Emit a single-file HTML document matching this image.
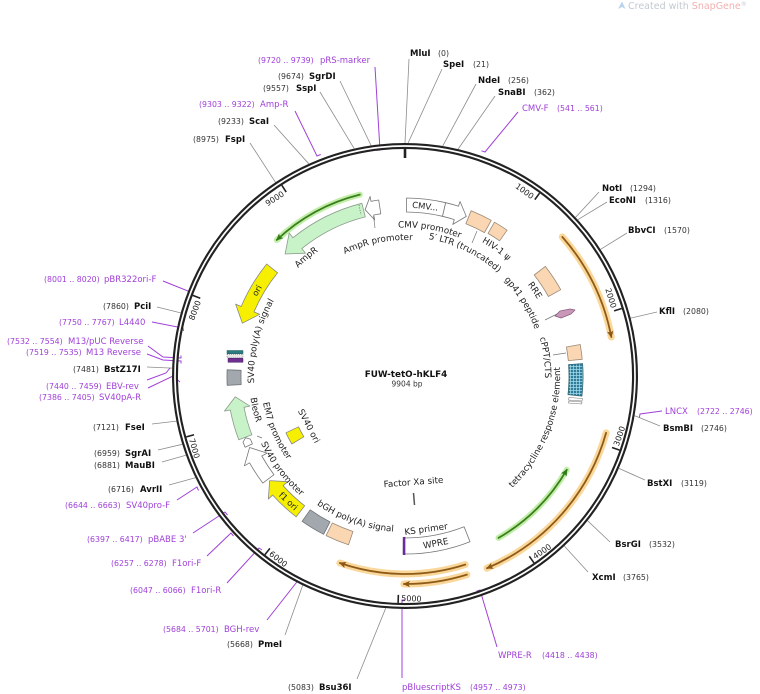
<!DOCTYPE html>
<html><head><meta charset="utf-8">
<style>
html,body{margin:0;padding:0;background:#fff;}
svg{display:block;}
text{font-family:"DejaVu Sans","Liberation Sans",sans-serif;}
.n{font-size:8.5px;font-weight:bold;fill:#111;}
.p{font-size:7.8px;fill:#333;}
.pr{font-size:8.5px;fill:#a040d8;}
.pp{font-size:7.8px;fill:#a040d8;}
.f{font-size:8.8px;fill:#222;}
.t{font-size:8px;fill:#222;}
</style></head>
<body>
<svg width="760" height="694" viewBox="0 0 760 694" xmlns="http://www.w3.org/2000/svg">
<defs>
  <marker id="ao" markerUnits="userSpaceOnUse" markerWidth="10" markerHeight="8" refX="6" refY="4" orient="auto"><path d="M0,0.8 L7,4 L0,7.2 L1.5,4z" fill="#8a5714"/></marker>
  <marker id="ag" markerUnits="userSpaceOnUse" markerWidth="10" markerHeight="8" refX="6" refY="4" orient="auto"><path d="M0,0.8 L7,4 L0,7.2 L1.5,4z" fill="#2f7a18"/></marker>
  <pattern id="hp" width="3" height="3" patternUnits="userSpaceOnUse"><rect width="3" height="3" fill="#2f7d9a"/><path d="M0,0.5H3M0.5,0V3" stroke="#a6dcea" stroke-width="0.7"/></pattern>
  <path id="cw136" d="M405,512 A136,136 0 1 1 405,240 A136,136 0 1 1 405,512"/>
  <path id="cw152" d="M405,528 A152,152 0 1 1 405,224 A152,152 0 1 1 405,528"/>
  <path id="cw148" d="M405,524.5 A148.5,148.5 0 1 1 405,227.5 A148.5,148.5 0 1 1 405,524.5"/>
  <path id="cw139" d="M405,515 A139,139 0 1 1 405,237 A139,139 0 1 1 405,515"/>
  <path id="cw154" d="M405,530.5 A154.5,154.5 0 1 1 405,221.5 A154.5,154.5 0 1 1 405,530.5"/>
  <path id="cw153" d="M405,529 A153,153 0 1 1 405,223 A153,153 0 1 1 405,529"/>
  <path id="cw138" d="M405,514 A138,138 0 1 1 405,238 A138,138 0 1 1 405,514"/>
  <path id="cw140" d="M405,516 A140,140 0 1 1 405,236 A140,140 0 1 1 405,516"/>
  <path id="cw151" d="M405,527 A151,151 0 1 1 405,225 A151,151 0 1 1 405,527"/>
  <path id="ccw155" d="M405,221 A155,155 0 1 0 405,531 A155,155 0 1 0 405,221"/>
  <path id="ccw156" d="M405,220 A156,156 0 1 0 405,532 A156,156 0 1 0 405,220"/>
  <path id="ccw159" d="M405,217 A159,159 0 1 0 405,535 A159,159 0 1 0 405,217"/>
  <path id="ccw144" d="M405,231.5 A144.5,144.5 0 1 0 405,520.5 A144.5,144.5 0 1 0 405,231.5"/>
</defs>

<!-- watermark -->
<path d="M618,9 L622,1.5 L625.5,9 L622,7 Z" fill="#b9d3ee"/>
<text x="628" y="9" font-size="9.5" fill="#c3c9d2">Created with <tspan fill="#f2b0b0">SnapGene</tspan><tspan font-size="6" dy="-3">®</tspan></text>

<!-- enzyme leader lines -->
<g stroke="#8c8c8c" stroke-width="0.8" fill="none">
  <line x1="409" y1="59" x2="405" y2="143"/>
  <line x1="442" y1="69" x2="408.1" y2="143"/>
  <line x1="476" y1="84" x2="442.7" y2="146.1"/>
  <line x1="495" y1="96" x2="458.1" y2="149.1"/>
  <line x1="599" y1="192" x2="575.6" y2="217.3"/>
  <line x1="607" y1="202" x2="577.8" y2="219.7"/>
  <line x1="627" y1="233" x2="600.6" y2="249.3"/>
  <line x1="657" y1="312" x2="630.7" y2="318.1"/>
  <line x1="660" y1="426" x2="634.6" y2="415.7"/>
  <line x1="645" y1="480" x2="618.9" y2="468.4"/>
  <line x1="610" y1="542" x2="587.6" y2="520.7"/>
  <line x1="588" y1="572" x2="564.3" y2="546"/>
  <line x1="357" y1="679" x2="385.7" y2="608.2"/>
  <line x1="285" y1="635" x2="302.7" y2="585.4"/>
  <line x1="169" y1="485" x2="195.4" y2="477.7"/>
  <line x1="162" y1="462" x2="185.9" y2="455.2"/>
  <line x1="158" y1="450" x2="182.2" y2="444.3"/>
  <line x1="152" y1="424" x2="176.4" y2="421.1"/>
  <line x1="147" y1="367" x2="172.1" y2="368.1"/>
  <line x1="157" y1="307" x2="180.7" y2="312.9"/>
  <line x1="250" y1="143" x2="275.5" y2="182.3"/>
  <line x1="274" y1="125" x2="308.8" y2="163.8"/>
  <line x1="320" y1="92" x2="354.2" y2="148.6"/>
  <line x1="340" y1="81" x2="371.1" y2="145.5"/>
</g>

<!-- primer leader lines -->
<g stroke="#a040d8" stroke-width="1" fill="none">
  <polyline points="375,67 380,150 376.5,150.4"/>
  <polyline points="295,111 317,156 320.7,154.5"/>
  <polyline points="518,112 485,152 481.5,150.8"/>
  <polyline points="662,411 640,414 639.4,417.5"/>
  <polyline points="497,647 480,590 476.5,591.2"/>
  <polyline points="402,678 402,600 405,600"/>
  <polyline points="267,620 300,578 303.5,579.8"/>
  <polyline points="227,583 259,548 262,550"/>
  <polyline points="207,556 231,533 233.5,536"/>
  <polyline points="193,533 225,512 227.5,515"/>
  <polyline points="177,500 197,487 198.5,490.5"/>
  <polyline points="163,281 193,293 192,296"/>
  <polyline points="152,322 183,328 183.5,331"/>
  <polyline points="148,346 163,357 181,358 181,355.5"/>
  <polyline points="147,354 163,360 181,361 181,363.5"/>
  <polyline points="147,380 166,373 170,368"/>
  <polyline points="148,388 173,376 180,382"/>
</g>

<!-- backbone -->
<circle cx="405" cy="376" r="230" fill="none" stroke="#222" stroke-width="6"/>
<circle cx="405" cy="376" r="230" fill="none" stroke="#fff" stroke-width="1.7"/>

<!-- ticks -->
<line x1="405" y1="147" x2="405" y2="158" stroke="#222" stroke-width="2.6"/>
<g stroke="#222" stroke-width="1.6">
  <line x1="405" y1="149" x2="405" y2="157" transform="rotate(36.35 405 376)"/>
  <line x1="405" y1="149" x2="405" y2="157" transform="rotate(72.70 405 376)"/>
  <line x1="405" y1="149" x2="405" y2="157" transform="rotate(109.05 405 376)"/>
  <line x1="405" y1="149" x2="405" y2="157" transform="rotate(145.40 405 376)"/>
  <line x1="405" y1="149" x2="405" y2="157" transform="rotate(181.74 405 376)"/>
  <line x1="405" y1="149" x2="405" y2="157" transform="rotate(218.09 405 376)"/>
  <line x1="405" y1="149" x2="405" y2="157" transform="rotate(254.44 405 376)"/>
  <line x1="405" y1="149" x2="405" y2="157" transform="rotate(290.79 405 376)"/>
  <line x1="405" y1="149" x2="405" y2="157" transform="rotate(327.14 405 376)"/>
</g>
<g class="t">
  <text x="402" y="159" text-anchor="end" transform="rotate(36.35 405 376)">1000</text>
  <text x="402" y="159" text-anchor="end" transform="rotate(72.70 405 376)">2000</text>
  <text x="408" y="601" transform="rotate(-70.95 405 376)">3000</text>
  <text x="408" y="601" transform="rotate(-34.60 405 376)">4000</text>
  <text x="408" y="601" transform="rotate(1.74 405 376)">5000</text>
  <text x="408" y="601" transform="rotate(38.09 405 376)">6000</text>
  <text x="408" y="601" transform="rotate(74.44 405 376)">7000</text>
  <text x="402" y="159" text-anchor="end" transform="rotate(290.79 405 376)">8000</text>
  <text x="402" y="159" text-anchor="end" transform="rotate(327.14 405 376)">9000</text>
</g>

<!-- orange / green arcs -->
<g fill="none" stroke-linecap="round">
  <g stroke="#f8c978" stroke-width="7" opacity="0.75">
    <path d="M562.3,236.9 A210,210 0 0 1 611.3,337.0"/>
    <path d="M606.1,432.9 A209,209 0 0 1 487.0,568.2"/>
    <path d="M465.2,564.6 A198,198 0 0 1 339.9,563.0"/>
    <path d="M466.9,574.6 A208,208 0 0 1 403.9,584.0"/>
  </g>
  <g stroke="#8f5b16" stroke-width="1.8" marker-end="url(#ao)">
    <path d="M562.3,236.9 A210,210 0 0 1 611.3,337.0"/>
    <path d="M606.1,432.9 A209,209 0 0 1 487.0,568.2"/>
    <path d="M465.2,564.6 A198,198 0 0 1 339.9,563.0"/>
    <path d="M466.9,574.6 A208,208 0 0 1 403.9,584.0"/>
  </g>
  <g stroke="#b6ea98" stroke-width="6" opacity="0.85">
    <path d="M359.8,194.6 A187,187 0 0 0 276.8,239.9"/>
    <path d="M498.5,537.9 A187,187 0 0 0 566.8,469.8"/>
  </g>
  <g stroke="#3a7f1e" stroke-width="1.8" marker-end="url(#ag)">
    <path d="M359.8,194.6 A187,187 0 0 0 276.8,239.9"/>
    <path d="M498.5,537.9 A187,187 0 0 0 566.8,469.8"/>
  </g>
</g>

<!-- features -->
<g stroke-width="0.8" stroke-linejoin="round">
  <path d="M406.6,198 A178,178 0 0 1 445.7,202.7 L442.5,216.3 A164,164 0 0 0 406.4,212 Z" fill="#fff" stroke="#777"/>
  <path d="M445.7,202.7 A178,178 0 0 1 458.5,206.2 L460.0,201.5 L466.3,216.4 L452.8,224.4 L454.3,219.6 A164,164 0 0 0 442.5,216.3 Z" fill="#fff" stroke="#777"/>
  <path d="M471.1,210.7 A178,178 0 0 1 491.3,220.3 L484.5,232.6 A164,164 0 0 0 465.9,223.7 Z" fill="#fad7b2" stroke="#9b8a78"/>
  <path d="M494.5,222.2 A178,178 0 0 1 507.1,230.2 L499.6,240.8 A165,165 0 0 0 488.0,233.4 Z" fill="#fad7b2" stroke="#9b8a78"/>
  <path d="M545.3,266.4 A178,178 0 0 1 560.7,289.7 L548.4,296.5 A164,164 0 0 0 534.2,275.0 Z" fill="#fad7b2" stroke="#9b8a78"/>
  <polygon points="555,316 560,311 570,309 575,310 571,314 561,318" fill="#c998b8" stroke="#8b5b80"/>
  <path d="M580.2,344.5 A178,178 0 0 1 582.2,359.3 L568.3,360.6 A164,164 0 0 0 566.4,347.0 Z" fill="#fad7b2" stroke="#9b8a78"/>
  <path d="M582.6,363.6 A178,178 0 0 1 581.9,396.1 L568.0,394.6 A164,164 0 0 0 568.6,364.6 Z" fill="url(#hp)" stroke="#2a6070"/>
  <polygon points="569,397.5 582.5,398.5 582,401 568.5,400" fill="#fff" stroke="#777" stroke-width="0.6"/>
  <polygon points="569,401 582,402 581.5,404 568.5,403" fill="#fff" stroke="#777" stroke-width="0.6"/>
  <path d="M470.0,541.7 A178,178 0 0 1 403.1,554.0 L403.3,538.0 A162,162 0 0 0 464.1,526.8 Z" fill="#fff" stroke="#777"/>
  <path d="M326.1,535.6 A178,178 0 0 0 348.5,544.8 L353.0,531.5 A164,164 0 0 1 332.3,523.0 Z" fill="#fad7b2" stroke="#9b8a78"/>
  <path d="M302.1,521.3 A178,178 0 0 0 323.6,534.3 L330.0,521.9 A164,164 0 0 1 310.2,509.8 Z" fill="#a3a8ae" stroke="#6f7378"/>
  <path d="M296.2,516.8 A178,178 0 0 1 272.7,495.1 L268.3,499.1 L269.7,480.6 L287.6,481.7 L283.1,485.7 A164,164 0 0 0 304.7,505.8 Z" fill="#f6f000" stroke="#888"/>
  <path d="M262.8,483.1 A178,178 0 0 1 249.6,462.8 L244.4,465.8 L249.6,447.5 L267.1,453.1 L261.8,456.0 A164,164 0 0 0 274.0,474.7 Z" fill="#fff" stroke="#777"/>
  <polygon points="245.1,447.2 243.0,442.1 245.6,437.8 250.4,439.1 252.4,443.9" fill="#fff" stroke="#777"/>
  <path d="M238.8,439.8 A178,178 0 0 1 230.3,410.0 L224.4,411.1 L235.3,396.8 L249.9,406.1 L244.0,407.3 A164,164 0 0 0 251.9,434.8 Z" fill="#c8f2c8" stroke="#8c9c8c"/>
  <path d="M227.2,385.3 A178,178 0 0 1 227.1,369.8 L241.1,370.3 A164,164 0 0 0 241.2,384.6 Z" fill="#a3a8ae" stroke="#6f7378"/>
  <rect x="227" y="350.5" width="16" height="3.2" fill="#2a7c80" stroke="#1f5a5c" stroke-width="0.5"/>
  <rect x="227" y="354.2" width="16" height="3.4" fill="#e8e8e8" stroke="#555" stroke-width="0.5" stroke-dasharray="1,1"/>
  <rect x="228" y="358.3" width="15" height="4" fill="#6d2f90" stroke="#4a1d66" stroke-width="0.5"/>
  <path d="M266.7,264.0 A178,178 0 0 0 241.2,306.5 L235.6,304.1 L242.4,323.2 L259.6,314.3 L254.0,311.9 A164,164 0 0 1 277.6,272.8 Z" fill="#f6f000" stroke="#888"/>
  <path d="M361.9,203.3 A178,178 0 0 0 293.0,237.7 L289.2,233.0 L285.1,254.0 L305.6,253.2 L301.8,248.6 A164,164 0 0 1 365.3,216.9 Z" fill="#c8f2c8" stroke="#8c9c8c"/>
  <line x1="359" y1="205" x2="361" y2="215" stroke="#666" stroke-width="0.8" stroke-dasharray="1,1.5"/>
  <path d="M378.7,200 A178,178 0 0 0 371.0,201.3 L370.1,196.4 L365.1,209.7 L374.7,219.9 L373.7,215.0 A164,164 0 0 1 380.8,213.8 Z" fill="#fff" stroke="#777"/>
  <path d="M291.8,444.0 A132,132 0 0 1 285.9,432.8 L298.5,426.8 A118,118 0 0 0 303.9,436.8 Z" fill="#f6f000" stroke="#888"/>
</g>
<line x1="404.1" y1="537" x2="404.1" y2="555" stroke="#6a2aa0" stroke-width="2.5"/>
<line x1="413.5" y1="493" x2="414.5" y2="505" stroke="#555" stroke-width="1.5"/>

<!-- feature leader lines -->
<g stroke="#777" stroke-width="0.7">
  <line x1="373.5" y1="216" x2="375" y2="228"/>
  <line x1="477" y1="231" x2="472" y2="243"/>
  <line x1="545" y1="320" x2="557" y2="314"/>
  <line x1="553" y1="355" x2="566" y2="353"/>
  <line x1="257" y1="436" x2="262" y2="438"/>
</g>

<!-- feature labels (curved) -->
<g class="f" text-anchor="middle">
  <text><textPath href="#cw136" startOffset="399.7">AmpR promoter</textPath></text>
  <text><textPath href="#cw152" startOffset="371.9">AmpR</textPath></text>
  <text><textPath href="#cw148" startOffset="491.1">CMV promoter</textPath></text>
  <text><textPath href="#cw139" startOffset="499.3">5′ LTR (truncated)</textPath></text>
  <text><textPath href="#cw154" startOffset="581.6">HIV-1 ψ</textPath></text>
  <text><textPath href="#cw153" startOffset="631.5">RRE</textPath></text>
  <text><textPath href="#cw138" startOffset="573.2">gp41 peptide</textPath></text>
  <text><textPath href="#cw140" startOffset="641.2">cPPT/CTS</textPath></text>
  <text><textPath href="#cw151" startOffset="272.8">SV40 poly(A) signal</textPath></text>
  <text><textPath href="#ccw155" startOffset="672.3">tetracycline response element</textPath></text>
  <text><textPath href="#ccw156" startOffset="437.3">bGH poly(A) signal</textPath></text>
  <text><textPath href="#ccw159" startOffset="352.4">SV40 promoter</textPath></text>
  <text><textPath href="#ccw144" startOffset="285.0">EM7 promoter</textPath></text>
  <text><textPath href="#ccw156" startOffset="279.6">BleoR</textPath></text>
  <text x="309" y="429" transform="rotate(62.3 309 426)">SV40 ori</text>
  <text x="413.5" y="485" transform="rotate(-4.4 413.5 482)">Factor Xa site</text>
  <text x="426" y="532" transform="rotate(-8 426 529)">KS primer</text>
  <text x="435.7" y="546.3" transform="rotate(-10.4 435.7 543.2)">WPRE</text>
  <text x="425.2" y="209.2" transform="rotate(6.8 425.2 206.2)" font-size="8.5">CMV...</text>
  <text x="288.4" y="504.1" transform="rotate(43 288.4 501.1)" font-size="8.5">f1 ori</text>
  <text x="256.9" y="293.5" transform="rotate(-60 256.9 290.5)" font-size="8.5">ori</text>
</g>

<!-- title -->
<text x="406" y="377" text-anchor="middle" font-size="8.8" font-weight="bold" fill="#111">FUW-tetO-hKLF4</text>
<text x="407" y="386.5" text-anchor="middle" font-size="7.5" fill="#333">9904 bp</text>

<!-- enzyme labels right -->
<text class="n" x="410" y="56">MluI</text><text class="p" x="438" y="56">(0)</text>
<text class="n" x="443" y="67">SpeI</text><text class="p" x="473" y="67">(21)</text>
<text class="n" x="478" y="83">NdeI</text><text class="p" x="508" y="83">(256)</text>
<text class="n" x="498" y="95">SnaBI</text><text class="p" x="534" y="95">(362)</text>
<text class="n" x="602" y="191">NotI</text><text class="p" x="630" y="191">(1294)</text>
<text class="n" x="609" y="203">EcoNI</text><text class="p" x="645" y="203">(1316)</text>
<text class="n" x="628" y="233">BbvCI</text><text class="p" x="664" y="233">(1570)</text>
<text class="n" x="659" y="314">KflI</text><text class="p" x="683" y="314">(2080)</text>
<text class="n" x="663" y="431">BsmBI</text><text class="p" x="701" y="431">(2746)</text>
<text class="n" x="647" y="486">BstXI</text><text class="p" x="681" y="486">(3119)</text>
<text class="n" x="615" y="547">BsrGI</text><text class="p" x="649" y="547">(3532)</text>
<text class="n" x="592" y="580">XcmI</text><text class="p" x="623" y="580">(3765)</text>

<!-- enzyme labels left -->
<text class="p" x="278" y="79">(9674)</text><text class="n" x="309" y="79">SgrDI</text>
<text class="p" x="263" y="91">(9557)</text><text class="n" x="296" y="91">SspI</text>
<text class="p" x="218" y="124">(9233)</text><text class="n" x="249" y="124">ScaI</text>
<text class="p" x="193" y="142">(8975)</text><text class="n" x="225" y="142">FspI</text>
<text class="p" x="103" y="309">(7860)</text><text class="n" x="134" y="309">PciI</text>
<text class="p" x="73" y="372">(7481)</text><text class="n" x="104" y="372">BstZ17I</text>
<text class="p" x="93" y="430">(7121)</text><text class="n" x="125" y="430">FseI</text>
<text class="p" x="94" y="456">(6959)</text><text class="n" x="125" y="456">SgrAI</text>
<text class="p" x="94" y="468">(6881)</text><text class="n" x="125" y="468">MauBI</text>
<text class="p" x="108" y="492">(6716)</text><text class="n" x="140" y="492">AvrII</text>
<text class="p" x="227" y="647">(5668)</text><text class="n" x="258" y="647">PmeI</text>
<text class="p" x="288" y="690">(5083)</text><text class="n" x="319" y="690">Bsu36I</text>

<!-- primer labels -->
<text class="pp" x="258" y="63">(9720 .. 9739)</text><text class="pr" x="320" y="63">pRS-marker</text>
<text class="pp" x="199" y="107">(9303 .. 9322)</text><text class="pr" x="260" y="107">Amp-R</text>
<text class="pr" x="522" y="111">CMV-F</text><text class="pp" x="557" y="111">(541 .. 561)</text>
<text class="pr" x="665" y="414">LNCX</text><text class="pp" x="697" y="414">(2722 .. 2746)</text>
<text class="pr" x="498" y="658">WPRE-R</text><text class="pp" x="542" y="658">(4418 .. 4438)</text>
<text class="pr" x="402" y="690">pBluescriptKS</text><text class="pp" x="470" y="690">(4957 .. 4973)</text>
<text class="pp" x="163" y="632">(5684 .. 5701)</text><text class="pr" x="224" y="632">BGH-rev</text>
<text class="pp" x="130" y="593">(6047 .. 6066)</text><text class="pr" x="191" y="593">F1ori-R</text>
<text class="pp" x="111" y="566">(6257 .. 6278)</text><text class="pr" x="172" y="566">F1ori-F</text>
<text class="pp" x="87" y="542">(6397 .. 6417)</text><text class="pr" x="148" y="542">pBABE 3'</text>
<text class="pp" x="65" y="508">(6644 .. 6663)</text><text class="pr" x="126" y="508">SV40pro-F</text>
<text class="pp" x="44" y="282">(8001 .. 8020)</text><text class="pr" x="104" y="282">pBR322ori-F</text>
<text class="pp" x="59" y="325">(7750 .. 7767)</text><text class="pr" x="119" y="325">L4440</text>
<text class="pp" x="7" y="344">(7532 .. 7554)</text><text class="pr" x="68" y="344">M13/pUC Reverse</text>
<text class="pp" x="26" y="355">(7519 .. 7535)</text><text class="pr" x="86" y="355">M13 Reverse</text>
<text class="pp" x="46" y="389">(7440 .. 7459)</text><text class="pr" x="106" y="389">EBV-rev</text>
<text class="pp" x="39" y="400">(7386 .. 7405)</text><text class="pr" x="99" y="400">SV40pA-R</text>
</svg>
</body></html>
